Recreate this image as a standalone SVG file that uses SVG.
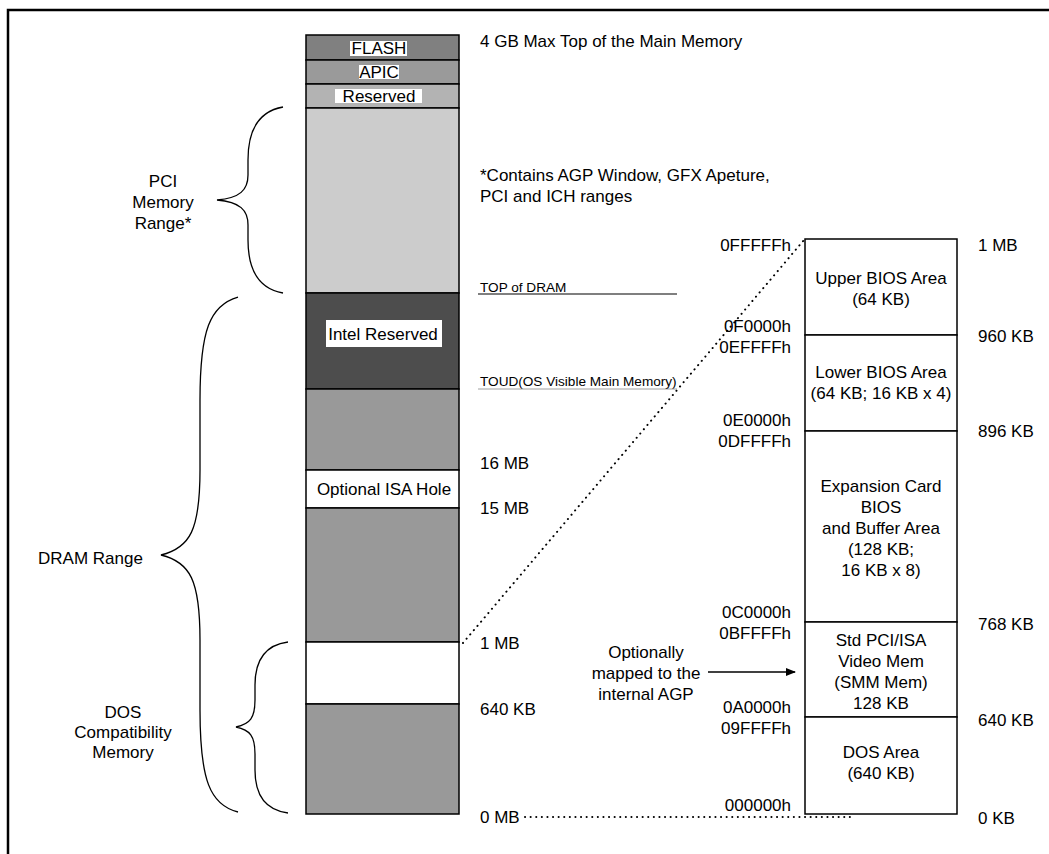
<svg xmlns="http://www.w3.org/2000/svg" width="1049" height="854" viewBox="0 0 1049 854">
<style>
text{font-family:"Liberation Sans",Arial,sans-serif;font-size:17px;fill:#000}
.m{text-anchor:middle}
.e{text-anchor:end}
.sm{font-size:13.6px}
.seg{stroke:#000;stroke-width:1.5}
.box{fill:#fff;stroke:#000;stroke-width:1.5}
.brace{fill:none;stroke:#000;stroke-width:1.3}
.dot{fill:none;stroke:#000;stroke-width:2;stroke-dasharray:0.1 5.5;stroke-linecap:round}
.hl{fill:#fff}
</style>
<defs>
<marker id="ah" markerWidth="10" markerHeight="8" refX="9" refY="4" orient="auto" markerUnits="userSpaceOnUse">
<path d="M0,0 L10,4 L0,8 Z" fill="#000"/>
</marker>
</defs>
<rect width="1049" height="854" fill="#fff"/>
<path d="M1049,10 H8 V854" fill="none" stroke="#000" stroke-width="2.5"/>

<g id="memory-column">
<g id="flash"><rect class="seg" x="306" y="35" width="153" height="25" fill="#808080"/><rect class="hl" x="350" y="41" width="57" height="15"/><text class="m" x="379" y="54">FLASH</text></g>
<g id="apic"><rect class="seg" x="306" y="60" width="153" height="24" fill="#9a9a9a"/><rect class="hl" x="359" y="65" width="40" height="14"/><text class="m" x="379" y="78">APIC</text></g>
<g id="reserved"><rect class="seg" x="306" y="84" width="153" height="24" fill="#b3b3b3"/><rect class="hl" x="335" y="89" width="87" height="14"/><text class="m" x="379" y="102">Reserved</text></g>
<g id="pci-range"><rect class="seg" x="306" y="108" width="153" height="185" fill="#cccccc"/></g>
<g id="intel-reserved"><rect class="seg" x="306" y="293" width="153" height="96" fill="#4d4d4d"/><rect class="hl" x="326" y="320" width="116" height="27"/><text class="m" x="383" y="340">Intel Reserved</text></g>
<g id="dram-upper"><rect class="seg" x="306" y="389" width="153" height="81" fill="#999999"/></g>
<g id="isa-hole"><rect class="seg" x="306" y="470" width="153" height="38" fill="#ffffff"/><text class="m" x="384" y="495">Optional ISA Hole</text></g>
<g id="dram-mid"><rect class="seg" x="306" y="508" width="153" height="134" fill="#999999"/></g>
<g id="dos-window"><rect class="seg" x="306" y="642" width="153" height="62" fill="#ffffff"/></g>
<g id="dram-low"><rect class="seg" x="306" y="704" width="153" height="110" fill="#999999"/></g>
</g>

<g id="braces">
<g id="pci-brace"><path class="brace" d="M283,107 C255,112 248,135 248,160 L248,175 C248,190 240,198 217,200 C240,202 248,210 248,225 L248,240 C248,265 255,288 283,293"/><text class="m" x="163" y="187">PCI</text><text class="m" x="163" y="208">Memory</text><text class="m" x="163" y="229">Range*</text></g>
<g id="dram-brace"><path class="brace" d="M238,297 C210,305 200,330 200,400 L200,470 C200,530 190,548 161,555 C190,562 200,580 200,640 L200,710 C200,780 210,805 238,812"/><text x="38" y="564">DRAM Range</text></g>
<g id="dos-brace"><path class="brace" d="M288,642 C265,645 255,660 255,685 L255,700 C255,718 250,724 236,727 C250,730 255,736 255,754 L255,770 C255,795 265,810 288,813"/><text class="m" x="123" y="718">DOS</text><text class="m" x="123" y="738">Compatibility</text><text class="m" x="123" y="758">Memory</text></g>
</g>

<g id="column-labels">
<text x="480" y="47">4 GB Max Top of the Main Memory</text>
<text x="480" y="181">*Contains AGP Window, GFX Apeture,</text>
<text x="480" y="202">PCI and ICH ranges</text>
<text class="sm" x="480" y="292">TOP of DRAM</text>
<line x1="478" y1="294" x2="677" y2="294" stroke="#000" stroke-width="1.2"/>
<text class="sm" x="480" y="386">TOUD(OS Visible Main Memory)</text>
<line x1="478" y1="389" x2="677" y2="389" stroke="#888" stroke-width="0.8"/>
<text x="480" y="469">16 MB</text>
<text x="480" y="514">15 MB</text>
<text x="480" y="649">1 MB</text>
<text x="480" y="715">640 KB</text>
<text x="480" y="823">0 MB</text>
</g>

<g id="lower-1mb-map">
<g id="upper-bios"><rect class="box" x="805" y="239" width="152" height="96"/><text class="m" x="881" y="284">Upper BIOS Area</text><text class="m" x="881" y="305">(64 KB)</text></g>
<g id="lower-bios"><rect class="box" x="805" y="335" width="152" height="96"/><text class="m" x="881" y="378">Lower BIOS Area</text><text class="m" x="881" y="399">(64 KB; 16 KB x 4)</text></g>
<g id="expansion"><rect class="box" x="805" y="431" width="152" height="191"/><text class="m" x="881" y="492">Expansion Card</text><text class="m" x="881" y="513">BIOS</text><text class="m" x="881" y="534">and Buffer Area</text><text class="m" x="881" y="555">(128 KB;</text><text class="m" x="881" y="576">16 KB x 8)</text></g>
<g id="video"><rect class="box" x="805" y="622" width="152" height="95"/><text class="m" x="881" y="646">Std PCI/ISA</text><text class="m" x="881" y="667">Video Mem</text><text class="m" x="881" y="688">(SMM Mem)</text><text class="m" x="881" y="709">128 KB</text></g>
<g id="dos-area"><rect class="box" x="805" y="717" width="152" height="97"/><text class="m" x="881" y="758">DOS Area</text><text class="m" x="881" y="779">(640 KB)</text></g>
</g>

<g id="address-labels">
<text class="e" x="791" y="251">0FFFFFh</text>
<text class="e" x="791" y="332">0F0000h</text>
<text class="e" x="791" y="353">0EFFFFh</text>
<text class="e" x="791" y="426">0E0000h</text>
<text class="e" x="791" y="447">0DFFFFh</text>
<text class="e" x="791" y="618">0C0000h</text>
<text class="e" x="791" y="639">0BFFFFh</text>
<text class="e" x="791" y="713">0A0000h</text>
<text class="e" x="791" y="734">09FFFFh</text>
<text class="e" x="791" y="811">000000h</text>
<text x="978" y="251">1 MB</text>
<text x="978" y="342">960 KB</text>
<text x="978" y="437">896 KB</text>
<text x="978" y="630">768 KB</text>
<text x="978" y="726">640 KB</text>
<text x="978" y="824">0 KB</text>
</g>

<g id="connectors">
<path class="dot" d="M463,643 L804,240"/>
<path class="dot" d="M525,817 L853,817"/>
<line x1="708" y1="672" x2="795" y2="672" stroke="#000" stroke-width="1.5" marker-end="url(#ah)"/>
<text class="m" x="646" y="658">Optionally</text>
<text class="m" x="646" y="679">mapped to the</text>
<text class="m" x="646" y="700">internal AGP</text>
</g>
</svg>
